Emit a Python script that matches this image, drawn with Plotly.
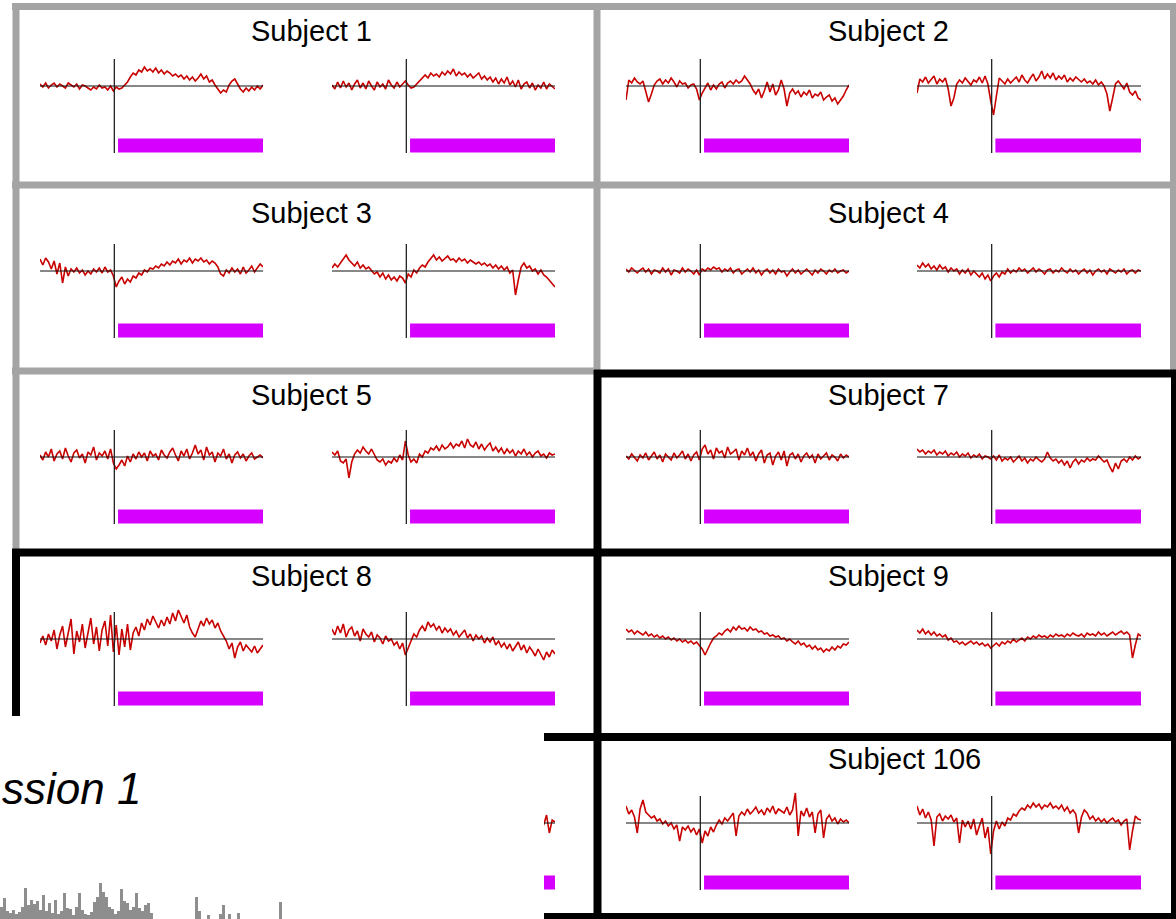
import numpy as np
import plotly.graph_objects as go

# ---------------------------------------------------------------------------
# Event-related responses per subject: two conditions (a, b), time in seconds
# relative to stimulus onset, signal in arbitrary units (baseline = 0).
# ---------------------------------------------------------------------------
T_START, T_END = -5.0, 10.0
EVENT_T = 0.0
STIM_ON, STIM_OFF = 0.25, 10.0

s1_a = [0.2, -0.1, 0.3, -0.2, 0.1, 0.3, -0.1, 0.2, 0.0, -0.2, 0.3, 0.1, -0.1, 0.2, -0.3, 0.1, 0.0, -0.2, -0.4, -0.1,
        -0.3, 0.1, -0.2, -0.1, -0.4, 0.0, -0.5, -0.1, -0.3, -0.2, 0.1, 0.4, 0.9, 1.3, 1.1, 1.6, 1.4, 1.9, 1.5, 1.7,
        1.4, 1.8, 1.3, 1.6, 1.2, 1.5, 1.3, 1.0, 1.2, 0.9, 1.1, 0.7, 1.0, 0.6, 0.9, 0.5, 0.8, 1.2, 0.7, 1.0,
        0.4, 0.6, 0.1, -0.3, -0.7, -0.4, -0.6, 0.1, 0.5, 0.7, 0.2, -0.3, -0.6, -0.2, -0.5, -0.1, -0.4, 0.0, -0.3, 0.1]
s1_b = [0.1, -0.3, 0.4, -0.2, 0.5, -0.1, 0.3, -0.4, 0.2, 0.6, -0.2, 0.3, -0.3, 0.5, 0.0, -0.4, 0.4, -0.1, 0.2, -0.3,
        0.6, 0.1, -0.2, 0.4, -0.1, 0.2, 0.5, 0.1, -0.2, -0.1, 0.2, 0.6, 0.9, 1.1, 0.8, 1.3, 1.0, 1.2, 0.9, 1.4,
        1.1, 1.5, 1.2, 1.7, 1.0, 1.4, 1.1, 1.3, 0.9, 1.2, 0.8, 1.1, 1.3, 0.7, 1.0, 0.6, 0.9, 0.4, 0.8, 0.2,
        0.7, 0.3, 0.9, 0.1, 0.5, -0.1, 0.6, -0.3, 0.2, 0.4, -0.2, 0.3, -0.4, 0.1, -0.2, 0.4, -0.3, 0.2, -0.1, -0.3]

s2_a = [-1.4, 0.6, 0.3, 0.8, 0.4, 0.2, 0.5, -0.6, -1.6, -0.8, 0.1, 0.5, 0.7, 0.2, 0.6, 0.3, 0.8, 0.4, -0.1, 0.5,
        0.2, 0.3, -0.2, 0.1, 0.2, -0.3, -1.4, -0.7, -0.2, 0.3, -0.4, 0.1, -0.3, 0.2, 0.4, -0.2, 0.3, 0.5, 0.2, 0.6,
        0.3, 0.5, 1.0, 0.6, 0.2, -0.4, -0.8, -0.3, -1.2, -0.5, 0.4, -0.6, 0.2, -0.9, -0.4, 0.6, -0.3, -2.0, -0.7, -0.3,
        -0.8, -0.5, -1.1, -0.6, -0.9, -0.4, -1.2, -0.8, -1.0, -0.6, -1.4, -1.1, -0.9, -1.5, -1.2, -1.8, -1.4, -1.0, -0.4, 0.1]
s2_b = [-0.7, 0.7, 0.4, 0.9, 0.3, 0.6, 1.0, 0.2, 0.7, 0.4, 0.8, -0.3, -2.0, -1.2, 0.2, 0.6, 0.3, 0.8, 0.5, 0.1,
        0.6, 0.4, 0.9, 0.3, 1.0, 0.2, -1.5, -2.9, -1.0, 0.8, 0.5, 0.2, 0.7, 0.3, 0.6, 0.9, 0.4, 1.1, 0.6, 0.3,
        0.8, 1.2, 0.5, 0.9, 1.5, 0.7, 1.2, 0.8, 1.3, 0.6, 1.0, 0.7, 1.1, 0.4, 0.8, 0.5, 0.9, 0.6, 0.4, 0.7,
        0.3, 0.5, 0.2, 0.6, 0.1, 0.4, 0.0, -0.8, -2.5, -1.2, 0.2, 0.5, 0.1, -0.3, 0.3, -0.6, -0.9, -0.5, -1.2, -1.4]

s3_a = [1.2, 0.6, 1.3, 0.9, 0.2, 1.0, -0.3, 0.8, -1.2, 0.4, -0.5, 0.2, -0.1, 0.3, -0.2, 0.1, -0.4, 0.0, -0.3, 0.2,
        -0.1, 0.3, -0.2, 0.4, -0.1, 0.1, -0.5, -1.6, -1.0, -0.6, -1.3, -0.8, -1.1, -0.5, -0.7, -0.2, -0.4, 0.1, -0.1, 0.3,
        0.2, 0.5, 0.3, 0.7, 0.5, 0.9, 0.6, 1.0, 0.8, 1.2, 0.7, 1.1, 0.9, 1.3, 0.8, 1.2, 1.0, 1.3, 0.9, 1.1,
        0.7, 1.0, 0.8, 0.4, -0.3, -0.5, 0.1, -0.2, 0.3, -0.1, 0.2, -0.3, 0.4, -0.2, 0.1, 0.5, -0.1, 0.3, 0.7, 0.4]
s3_b = [0.3, 0.7, 0.4, 0.8, 1.3, 1.6, 1.1, 0.8, 0.5, 0.9, 0.3, 0.6, 0.2, 0.4, 0.0, -0.3, -0.1, -0.6, -0.2, -0.8,
        -0.4, -0.9, -0.6, -1.0, -0.5, -0.7, -1.2, -0.3, -0.6, 0.1, -0.2, 0.3, 0.6, 0.4, 0.9, 1.2, 1.6, 1.1, 1.4, 1.0,
        1.3, 1.5, 1.1, 1.2, 0.9, 1.3, 1.0, 1.2, 0.8, 1.1, 0.9, 0.7, 0.9, 0.6, 0.8, 0.5, 0.7, 0.3, 0.6, 0.2,
        0.5, 0.1, 0.4, -0.2, 0.1, -2.4, -0.9, 0.4, 0.8, 0.3, 0.5, 0.0, 0.2, -0.3, 0.1, -0.4, -0.6, -0.9, -1.3, -1.6]

s4_a = [0.2, -0.1, 0.3, 0.0, -0.2, 0.1, 0.3, -0.1, 0.2, -0.3, 0.1, 0.0, -0.2, 0.3, -0.1, 0.2, -0.4, 0.1, 0.0, -0.2,
        0.3, -0.1, 0.2, 0.0, -0.3, 0.1, -0.4, 0.2, 0.0, 0.3, 0.1, 0.4, 0.2, 0.3, -0.1, 0.2, 0.0, 0.3, -0.2, 0.1,
        0.2, -0.3, 0.0, 0.2, -0.1, 0.3, -0.2, 0.1, -0.4, 0.0, 0.2, -0.2, 0.1, -0.3, 0.2, -0.1, 0.0, -0.5, -0.1, 0.2,
        -0.2, 0.1, -0.3, 0.0, 0.2, -0.1, -0.4, 0.1, -0.2, 0.2, 0.0, -0.3, 0.1, -0.1, 0.2, -0.2, 0.0, 0.1, -0.2, 0.0]
s4_b = [0.6, 0.3, 0.8, 0.4, 0.7, 0.2, 0.5, 0.1, 0.6, 0.2, 0.4, -0.1, 0.3, 0.0, 0.2, -0.3, 0.1, -0.2, 0.2, -0.4,
        0.0, -0.3, -0.6, -0.2, -0.8, -0.4, -1.0, -0.5, -0.2, -0.6, -0.1, -0.3, 0.2, -0.2, 0.1, -0.1, 0.3, 0.0, 0.2, -0.2,
        0.1, 0.3, -0.1, 0.2, 0.0, -0.3, 0.1, 0.2, -0.2, 0.1, -0.1, 0.3, 0.0, -0.2, 0.2, -0.1, 0.1, -0.3, 0.0, 0.2,
        -0.2, 0.1, -0.4, 0.0, 0.2, -0.1, 0.1, -0.3, 0.2, 0.0, -0.2, 0.1, -0.1, 0.2, -0.3, 0.0, 0.1, -0.2, 0.1, 0.0]

s5_a = [0.2, -0.3, 0.5, 0.0, 0.8, -0.4, 0.3, 0.6, -0.2, 0.9, 0.1, -0.5, 0.4, 0.7, -0.1, 0.3, -0.6, 0.5, 0.2, 1.0,
        -0.3, 0.4, 0.1, 0.6, -0.2, 0.8, -0.6, -1.2, -0.8, -0.3, -0.9, 0.1, -0.5, 0.3, -0.2, 0.5, 0.0, 0.4, -0.4, 0.6,
        0.1, 0.3, -0.3, 0.7, 0.2, -0.1, 0.5, 0.9, 0.2, -0.4, 0.6, 0.1, 0.8, -0.2, 0.4, 1.2, 0.3, 0.7, -0.3, 1.0,
        0.2, 0.5, -0.5, 0.4, 0.1, 0.8, -0.2, 0.3, -0.6, 0.2, 0.5, -0.1, 0.3, -0.4, 0.1, 0.4, -0.2, 0.0, 0.2, -0.1]
s5_b = [0.5, 0.2, 0.6, -0.4, -0.6, -0.2, -2.1, -0.5, 0.3, 0.7, 0.4, 1.0, 0.6, 0.3, 0.8, 0.2, -0.3, -0.5, -0.2, -0.8,
        -0.4, -0.6, -0.1, -0.5, 0.2, -0.3, 1.6, 0.2, -0.5, -0.2, -0.6, 0.3, 0.0, 0.6, 0.4, 0.9, 0.7, 1.1, 0.6, 1.2,
        0.8, 1.0, 1.4, 0.9, 1.3, 1.1, 1.6, 0.9, 1.8, 1.2, 1.0, 1.5, 0.8, 1.3, 0.7, 1.1, 1.4, 0.6, 1.0, 0.5,
        0.9, 0.3, 0.8, 0.4, 0.7, 0.1, 0.6, 0.3, 0.8, 0.2, 0.5, 0.0, 0.4, 0.6, 0.1, 0.3, -0.1, 0.4, 0.2, 0.3]

s7_a = [0.1, -0.2, 0.3, 0.0, -0.4, 0.2, -0.1, 0.4, -0.3, 0.1, 0.5, -0.2, 0.2, -0.5, 0.3, 0.0, -0.3, 0.4, -0.1, 0.2,
        0.6, -0.2, 0.3, -0.4, 0.2, 0.5, -0.3, 0.8, 1.2, 0.3, 0.7, -0.2, 0.9, 0.4, 0.6, -0.1, 1.0, 0.3, 0.5, 0.8,
        -0.3, 0.6, 0.2, 0.9, 0.1, 0.5, -0.4, 0.3, 0.7, -0.6, 0.2, 0.4, -0.8, 0.1, 0.5, -0.3, 0.6, -0.9, 0.2, 0.4,
        -0.2, 0.3, -0.5, 0.1, 0.4, -0.1, 0.2, -0.6, 0.3, -0.2, 0.1, 0.4, -0.3, 0.2, 0.0, -0.4, 0.3, -0.1, 0.2, 0.0]
s7_b = [0.8, 0.5, 0.7, 0.3, 0.6, 0.4, 0.7, 0.2, 0.5, 0.3, 0.6, 0.1, 0.4, 0.2, 0.5, 0.0, 0.3, 0.1, 0.4, -0.1,
        0.2, 0.0, 0.3, -0.2, 0.1, 0.0, -0.2, 0.1, -0.3, 0.2, -0.4, -0.1, -0.3, 0.0, -0.5, -0.2, 0.1, -0.4, -0.1, -0.6,
        -0.2, -0.4, 0.0, -0.3, -0.5, -0.2, 0.5, -0.1, -0.4, -0.2, -0.6, -0.3, -0.8, -0.4, -1.1, -0.5, -0.2, -0.7, -0.3, -0.5,
        -0.1, -0.4, -0.2, -0.3, 0.1, -0.2, -0.5, -0.3, -1.0, -1.5, -0.6, -1.2, -0.4, -0.2, -0.5, 0.0, -0.3, 0.1, -0.2, 0.0]

s8_a = [-0.4, 0.3, -0.6, 0.5, -0.2, 0.9, -1.0, 0.4, 1.3, -0.8, 0.6, 2.0, -1.5, 0.8, -0.3, 1.5, -0.9, 0.7, 2.1, -0.5,
        1.2, -1.2, 0.9, 1.8, -0.7, 2.4, -1.3, 1.4, -1.6, 1.0, -0.8, 1.5, -1.1, 0.6, 1.2, 0.3, 1.6, 0.9, 2.0, 1.4,
        2.3, 1.7, 1.1, 1.9, 1.3, 2.2, 1.5, 2.6, 1.8, 2.9, 2.2, 1.6, 2.4, 1.2, 0.6, 0.2, 1.0, 1.8, 1.3, 2.1,
        1.5, 1.9, 1.1, 1.6, 0.8, 0.3, -0.2, -1.0, -0.4, -1.9, -0.8, -0.3, -1.2, -0.6, -0.9, -1.3, -0.7, -1.4, -1.0, -0.6]
s8_b = [1.0, 0.4, 1.3, 0.6, 1.5, 0.2, 0.9, 1.2, 0.3, 0.8, -0.2, 1.0, 0.5, 0.2, 0.7, -0.3, 0.4, 0.1, -0.5, 0.3,
        -0.2, 0.0, -0.6, -0.3, -1.0, -0.4, -1.6, -0.8, -0.2, 0.5, 0.2, 0.9, 1.3, 0.8, 1.7, 1.2, 1.5, 0.9, 1.3, 0.6,
        1.1, 0.7, 1.0, 0.4, 0.8, 0.2, 0.6, 0.9, 0.1, 0.5, -0.2, 0.4, 0.0, 0.3, -0.4, 0.1, -0.3, 0.2, -0.6, -0.2,
        -0.8, -0.4, -1.0, -0.5, -1.2, -0.7, -0.3, -1.1, -0.6, -1.4, -0.8, -1.2, -1.7, -1.0, -1.5, -2.1, -1.3, -1.8, -1.1, -1.5]

s9_a = [1.0, 0.7, 0.9, 0.5, 0.8, 0.6, 0.4, 0.7, 0.3, 0.5, 0.2, 0.4, 0.1, 0.3, 0.0, 0.2, -0.1, 0.1, -0.2, 0.0,
        -0.3, -0.1, -0.4, -0.2, -0.5, -0.3, -0.6, -1.0, -1.6, -0.9, -0.4, 0.1, 0.3, 0.6, 0.4, 0.8, 1.0, 0.7, 1.2, 0.9,
        1.3, 1.0, 1.1, 0.8, 1.2, 0.9, 1.0, 0.7, 0.8, 0.5, 0.6, 0.3, 0.4, 0.2, 0.3, 0.0, 0.1, -0.2, 0.0, -0.3,
        -0.5, -0.2, -0.6, -0.4, -0.8, -0.6, -1.0, -0.7, -1.1, -0.9, -1.3, -1.0, -1.2, -0.8, -1.1, -0.7, -0.9, -0.5, -0.6, -0.3]
s9_b = [0.9, 0.6, 1.0, 0.5, 0.8, 0.4, 0.7, 0.3, 0.5, 0.2, 0.4, -0.1, 0.1, -0.3, -0.2, -0.5, -0.3, -0.6, -0.4, -0.2,
        -0.5, -0.3, -0.6, -0.4, -0.7, -0.5, -0.9, -0.6, -0.4, -0.7, -0.3, -0.5, -0.2, -0.4, 0.0, -0.3, -0.1, 0.1, -0.2, 0.2,
        0.0, 0.3, 0.1, 0.4, 0.2, 0.3, 0.1, 0.4, 0.2, 0.5, 0.3, 0.4, 0.2, 0.5, 0.3, 0.6, 0.4, 0.3, 0.5, 0.2,
        0.6, 0.4, 0.5, 0.3, 0.7, 0.4, 0.6, 0.3, 0.5, 0.7, 0.4, 0.6, 0.8, 0.5, 0.7, 0.4, -1.9, -0.6, 0.5, 0.3]

s106_a = [1.7, 0.9, 1.3, 0.6, -1.0, 1.4, 2.3, 1.1, 0.8, 0.5, 0.7, 0.2, 0.4, -0.1, 0.2, -0.3, 0.0, -0.6, -0.2, -1.8,
          -0.4, -0.7, -0.3, -0.9, -0.5, -1.2, -0.6, -2.0, -0.8, -1.3, -0.4, -0.9, -0.2, 0.3, -0.1, 0.5, 0.2, 0.6, 1.0, -1.3,
          0.7, 1.1, 0.8, 1.4, 0.9, 1.2, 1.6, 1.0, 1.3, 0.8, 1.5, 1.1, 1.7, 0.9, 1.4, 1.2, 1.0, 1.6, 0.8, 1.3,
          3.0, -1.3, 1.2, 0.7, 1.5, 0.6, 1.1, -1.0, 0.9, 1.3, -1.5, 0.4, 0.8, 0.2, 0.5, -0.1, 0.4, 0.1, 0.3, 0.0]
s106_b = [1.7, 0.8, 1.4, 0.5, 1.1, 0.3, -2.3, 0.6, 0.9, 0.2, 0.7, 0.4, 0.8, 0.1, 0.5, -2.0, 0.3, -0.4, 0.2, -0.6,
          0.4, -1.2, -0.3, 0.5, -1.5, -0.4, -3.1, -0.8, 0.2, -0.6, 0.1, -0.3, 0.5, 0.3, 0.9, 0.7, 1.2, 1.5, 1.3, 1.8,
          1.5, 2.0, 1.6, 1.9, 1.4, 1.8, 1.6, 2.0, 1.5, 1.7, 1.4, 1.8, 1.2, 1.6, 1.0, 1.3, 0.9, -1.0, 0.6, 1.3,
          1.0, 0.4, 0.7, 0.2, 0.5, 0.1, 0.4, 0.0, 0.3, 0.5, 0.1, 0.3, -0.2, 0.2, 0.4, -2.7, -0.8, 0.7, 0.4, 0.3]

# last samples of the partly hidden bottom-left panel (condition b)
row5_left_tail = [0.4, -0.2, 0.8, -1.0, 0.3, 0.1]

# grey activity histogram peeking in at the bottom left (counts per bin)
hist_counts = [12, 21, 8, 6, 9, 5, 7, 12, 31, 14, 19, 15, 18, 9, 24, 8, 16, 6, 19, 5,
               8, 26, 11, 10, 4, 12, 26, 9, 5, 4, 7, 17, 22, 36, 27, 22, 12, 10, 5, 8,
               30, 18, 16, 9, 12, 26, 11, 8, 14, 16, 6, 0, 0, 0, 0, 0, 0, 0, 0, 0,
               0, 0, 0, 0, 0, 22, 8, 0, 0, 4, 0, 0, 0, 5, 14, 0, 5, 0, 0, 6,
               0, 0, 0, 0, 0, 0, 0, 0, 0, 0, 0, 0, 0, 17]

panels = [
    ("Subject 1", 0, 0, s1_a, s1_b),
    ("Subject 2", 1, 0, s2_a, s2_b),
    ("Subject 3", 0, 1, s3_a, s3_b),
    ("Subject 4", 1, 1, s4_a, s4_b),
    ("Subject 5", 0, 2, s5_a, s5_b),
    ("Subject 7", 1, 2, s7_a, s7_b),
    ("Subject 8", 0, 3, s8_a, s8_b),
    ("Subject 9", 1, 3, s9_a, s9_b),
    ("Subject 106", 1, 4, s106_a, s106_b),
]

# ---------------------------------------------------------------------------
# Layout (pixel geometry of the 1176 x 919 canvas)
# ---------------------------------------------------------------------------
W, H = 1176, 919
RED = "#c80000"
MAGENTA = "#d600ff"
GREY = "#a4a4a4"
FONT = "Liberation Sans, Arial, sans-serif"

Y_RANGE = [-6.8, 3.2]          # 10 px per unit inside each mini plot
EVENT_TOP, EVENT_BOTTOM = 2.7, -6.7
BAR_TOP, BAR_BOTTOM = -5.25, -6.65

PLOT_X = {0: [(40, 263), (332, 555)], 1: [(626, 849), (917, 1141)]}
ROW_BASE = [86, 271, 457, 639, 823]
TITLE_Y = [31, 213, 395, 576, 759]
TITLE_X = {0: 249, 1: 826}

fig = go.Figure()
axis_count = [0]


def new_axes(x0, x1, y_top, y_bottom, xrange, yrange):
    axis_count[0] += 1
    n = axis_count[0]
    sfx = "" if n == 1 else str(n)
    fig.update_layout(**{
        "xaxis" + sfx: dict(domain=[x0 / W, x1 / W], range=xrange, visible=False,
                            fixedrange=True, anchor="y" + sfx),
        "yaxis" + sfx: dict(domain=[1 - y_bottom / H, 1 - y_top / H], range=yrange,
                            visible=False, fixedrange=True, anchor="x" + sfx),
    })
    return "x" + sfx, "y" + sfx


def draw_response(values, x0, x1, base, t=None, xrange=None):
    xa, ya = new_axes(x0, x1, base - 32, base + 68, xrange or [T_START, T_END], Y_RANGE)
    if t is None:
        t = np.linspace(T_START, T_END, len(values))
    # stimulus period
    fig.add_trace(go.Bar(
        orientation="h", y=[(BAR_TOP + BAR_BOTTOM) / 2], x=[STIM_OFF - STIM_ON], base=[STIM_ON],
        width=[BAR_TOP - BAR_BOTTOM], marker=dict(color=MAGENTA, line=dict(width=0)),
        xaxis=xa, yaxis=ya, hoverinfo="skip"))
    # response trace
    fig.add_trace(go.Scatter(
        x=t, y=values, mode="lines", line=dict(color=RED, width=1.6),
        xaxis=xa, yaxis=ya, hoverinfo="skip"))
    # baseline
    fig.add_trace(go.Scatter(
        x=[T_START, T_END], y=[0, 0], mode="lines", line=dict(color="#111111", width=1.1),
        xaxis=xa, yaxis=ya, hoverinfo="skip"))
    # onset marker
    fig.add_trace(go.Scatter(
        x=[EVENT_T, EVENT_T], y=[EVENT_TOP, EVENT_BOTTOM], mode="lines",
        line=dict(color="#222222", width=1.3), xaxis=xa, yaxis=ya, hoverinfo="skip"))


annotations = []
for title, col, row, cond_a, cond_b in panels:
    for (x0, x1), vals in zip(PLOT_X[col], (cond_a, cond_b)):
        draw_response(vals, x0, x1, ROW_BASE[row])
    annotations.append(dict(
        text=title, x=TITLE_X[col] / W, y=1 - TITLE_Y[row] / H, xref="paper", yref="paper",
        xanchor="left", yanchor="middle", showarrow=False,
        font=dict(family=FONT, size=29, color="black")))

# partly hidden panel: only the right end of its second plot is visible
vis_x0 = 544
px0, px1 = PLOT_X[0][1]
dt = (T_END - T_START) / 79
tail_t = T_END - dt * np.arange(len(row5_left_tail) - 1, -1, -1)
vis_start = T_START + (vis_x0 - px0) / (px1 - px0) * (T_END - T_START)
draw_response(row5_left_tail, vis_x0, px1, ROW_BASE[4], t=tail_t, xrange=[vis_start, T_END])

# histogram strip
hx, hy = new_axes(0, 3 * len(hist_counts), 880, 919, [-0.5, len(hist_counts) - 0.5], [0, 39])
fig.add_trace(go.Bar(
    x=np.arange(len(hist_counts)), y=hist_counts, width=1.0,
    marker=dict(color="#8e8e8e", line=dict(width=0)), xaxis=hx, yaxis=hy, hoverinfo="skip"))

# visible end of the session caption
annotations.append(dict(
    text="<i>ssion 1</i>", x=0.0, y=1 - 788 / H, xref="paper", yref="paper",
    xanchor="left", yanchor="middle", showarrow=False,
    font=dict(family=FONT, size=44, color="black")))

# panel frames: (colour, width, x0, y0, x1, y1) in pixels
frames = [
    (GREY, 7, 12, 6.5, 1176, 6.5),
    (GREY, 7, 16, 3, 16, 552),
    (GREY, 7, 12, 185, 1176, 185),
    (GREY, 7, 12, 371, 597, 371),
    (GREY, 7, 597, 3, 597, 371),
    (GREY, 6, 1173, 3, 1173, 371),
    ("black", 8, 594, 373.5, 1176, 373.5),
    ("black", 8, 597.5, 370, 597.5, 919),
    ("black", 5, 1173.5, 370, 1173.5, 919),
    ("black", 8, 12, 552.5, 1176, 552.5),
    ("black", 8, 16, 549, 16, 716),
    ("black", 8, 544, 737, 1176, 737),
    ("black", 7, 544, 916.5, 1176, 916.5),
]
shapes = [dict(type="line", xref="paper", yref="paper", x0=a / W, y0=1 - b / H, x1=c / W, y1=1 - d / H,
               line=dict(color=col, width=w), layer="above")
          for col, w, a, b, c, d in frames]

fig.update_layout(
    width=W, height=H, margin=dict(l=0, r=0, t=0, b=0),
    paper_bgcolor="white", plot_bgcolor="rgba(0,0,0,0)",
    showlegend=False, barmode="overlay",
    annotations=annotations, shapes=shapes,
)

fig.write_html("out.html")
